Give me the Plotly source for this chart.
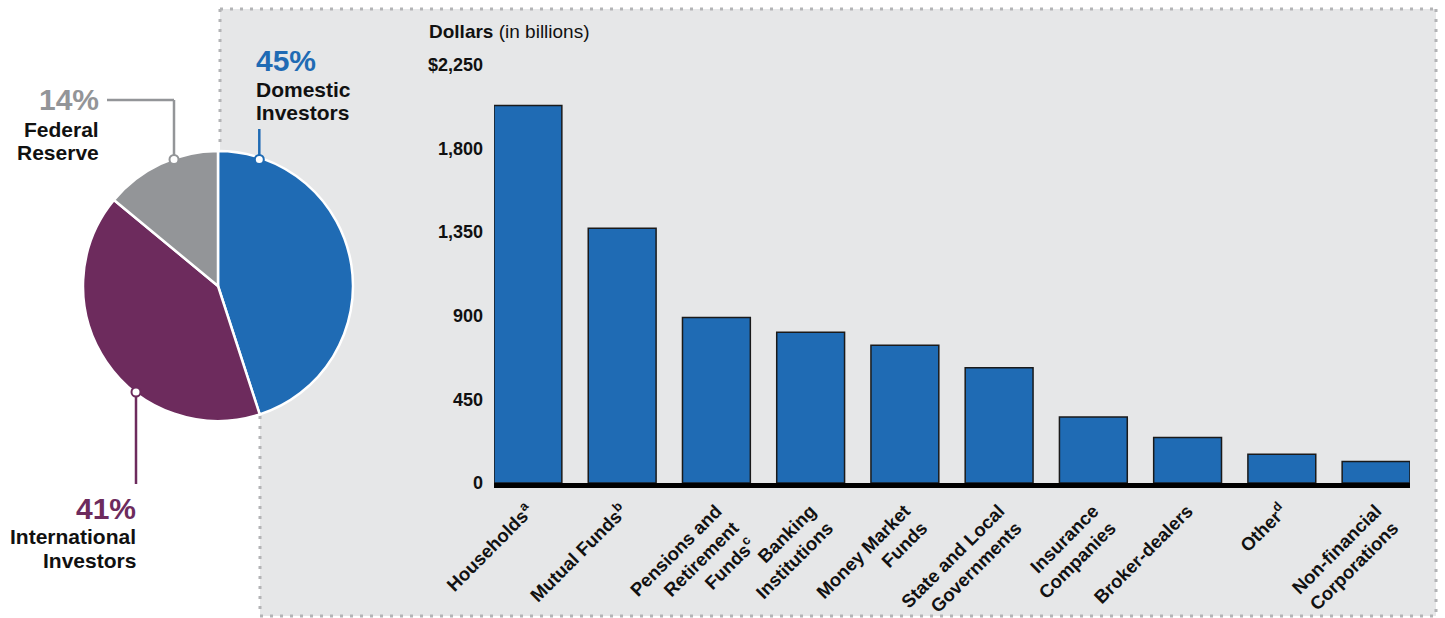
import plotly.graph_objects as go

# ---------------- data ----------------
pie_labels = ["Domestic Investors", "International Investors", "Federal Reserve"]
pie_values = [45, 41, 14]
pie_colors = ["#1f6bb4", "#6d2b5d", "#939598"]

categories = [
    "Households<sup>a</sup>",
    "Mutual Funds<sup>b</sup>",
    "Pensions and<br>Retirement<br>Funds<sup>c</sup>",
    "Banking<br>Institutions",
    "Money Market<br>Funds",
    "State and Local<br>Governments",
    "Insurance<br>Companies",
    "Broker-dealers",
    "Other<sup>d</sup>",
    "Non-financial<br>Corporations",
]
holdings = [2030, 1370, 890, 810, 740, 620, 355, 245, 155, 115]

y_tickvals = [0, 450, 900, 1350, 1800, 2250]
y_ticktext = ["0", "450", "900", "1,350", "1,800", "$2,250"]

# ---------------- layout helpers ----------------
W, H = 1445, 618
FONT = "Liberation Sans, Arial, Helvetica, sans-serif"
BLUE, PURPLE, GRAY = pie_colors
PANEL = "#e6e7e8"
DOTS = "#b3b4b6"


def px(x):
    return x / W


def py(y):
    return 1 - y / H


fig = go.Figure()

fig.add_trace(go.Bar(
    x=list(range(len(categories))),
    y=holdings,
    marker=dict(color=BLUE, line=dict(color="#1a1a1a", width=1.5)),
    width=0.72,
    hoverinfo="y",
    showlegend=False,
))

fig.add_trace(go.Pie(
    labels=pie_labels,
    values=pie_values,
    marker=dict(colors=pie_colors, line=dict(color="white", width=2.5)),
    sort=False,
    direction="clockwise",
    rotation=0,
    textinfo="none",
    hoverinfo="label+percent",
    showlegend=False,
    automargin=False,
    domain=dict(x=[px(83), px(353)], y=[py(421), py(151)]),
))

shapes = []
# gray panel fill
shapes.append(dict(
    type="path", xref="paper", yref="paper", layer="below",
    path=(f"M {px(220)},{py(9)} L {px(1436)},{py(9)} L {px(1436)},{py(616)} "
          f"L {px(260)},{py(616)} L {px(260)},{py(286)} L {px(220)},{py(286)} Z"),
    fillcolor=PANEL, line=dict(width=0),
))
# dotted border
for (x0, y0, x1, y1) in [
    (220, 9, 1436, 9),
    (1436, 9, 1436, 616),
    (260, 616, 1436, 616),
    (220, 9, 220, 145),
    (260, 416, 260, 616),
]:
    shapes.append(dict(
        type="line", xref="paper", yref="paper", layer="below",
        x0=px(x0), y0=py(y0), x1=px(x1), y1=py(y1),
        line=dict(color=DOTS, width=3, dash="3px,7px"),
    ))

# callout lines
callouts = [
    (GRAY, [(107, 100, 174, 100), (174, 100, 174, 159.5)], (174, 159.5)),
    (BLUE, [(259.3, 129, 259.3, 159.5)], (259.3, 159.5)),
    (PURPLE, [(136, 392, 136, 484)], (136, 392)),
]
for color, segs, dot in callouts:
    for (x0, y0, x1, y1) in segs:
        shapes.append(dict(
            type="line", xref="paper", yref="paper", layer="above",
            x0=px(x0), y0=py(y0), x1=px(x1), y1=py(y1),
            line=dict(color=color, width=2.5),
        ))
    r = 4.5
    shapes.append(dict(
        type="circle", xref="paper", yref="paper", layer="above",
        x0=px(dot[0] - r), x1=px(dot[0] + r), y0=py(dot[1] + r), y1=py(dot[1] - r),
        fillcolor="white", line=dict(color=color, width=2),
    ))

annotations = []


def label(text, x, y, anchor, size, color="#111111", family=FONT):
    annotations.append(dict(
        text=text, xref="paper", yref="paper", x=px(x), y=py(y),
        xanchor=anchor, yanchor="middle", showarrow=False, borderpad=0,
        font=dict(family=family, size=size, color=color, weight="bold"),
    ))


label("45%", 255, 61, "left", 30, BLUE)
label("Domestic", 255, 89, "left", 21)
label("Investors", 255, 112.5, "left", 21)
label("14%", 99.5, 100, "right", 30, GRAY)
label("Federal", 99.5, 129, "right", 21)
label("Reserve", 99.5, 152.5, "right", 21)
label("41%", 137, 508, "right", 30, PURPLE)
label("International", 137, 536, "right", 21)
label("Investors", 137, 560, "right", 21)

annotations.append(dict(
    text="<b>Dollars</b> (in billions)", xref="paper", yref="paper",
    x=px(427), y=py(31.5), xanchor="left", yanchor="middle", showarrow=False,
    font=dict(family=FONT, size=19, color="#111111"),
))

fig.update_layout(
    width=W, height=H, autosize=False,
    margin=dict(l=0, r=0, t=0, b=0, pad=0, autoexpand=False),
    paper_bgcolor="white", plot_bgcolor="rgba(0,0,0,0)",
    font=dict(family=FONT, color="#111111"),
    shapes=shapes, annotations=annotations,
    bargap=0.28,
    xaxis=dict(
        domain=[px(494), px(1410)],
        range=[-0.36, len(categories) - 1 + 0.36],
        tickmode="array", tickvals=list(range(len(categories))), ticktext=categories,
        tickangle=-45,
        tickfont=dict(family=FONT, size=18.5, color="#111111", weight="bold"),
        ticklabelstandoff=5,
        showline=True, linecolor="#000000", linewidth=5,
        showgrid=False, zeroline=False, ticks="",
        automargin=False, fixedrange=True,
    ),
    yaxis=dict(
        domain=[py(483), py(64.5)],
        range=[0, 2250],
        tickmode="array", tickvals=y_tickvals, ticktext=y_ticktext,
        tickfont=dict(family=FONT, size=18, color="#111111", weight="bold"),
        showline=False, showgrid=False, zeroline=False, ticks="",
        ticklabelstandoff=10,
        automargin=False, fixedrange=True,
    ),
)

fig.write_html(
    "out.html",
    config={"displayModeBar": False},
    post_script="document.body.style.margin='0';document.body.style.overflow='hidden';",
)
